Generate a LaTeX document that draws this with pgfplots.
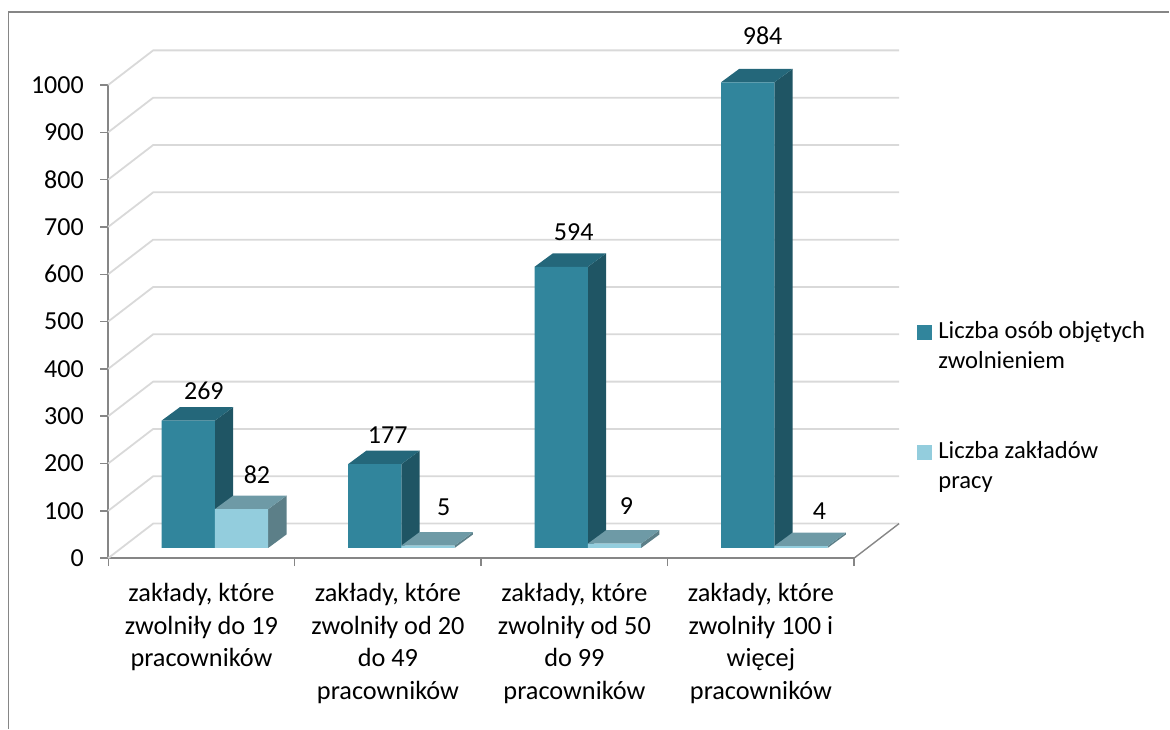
\documentclass[border=0pt]{standalone}
\usepackage{pgfplots}
\usepackage{pgfplotstable}
\usepackage{fontspec}
\setmainfont{Carlito}
\pgfplotsset{compat=1.18}

\definecolor{tealfront}{HTML}{31859C}
\definecolor{tealside}{HTML}{1F5564}
\definecolor{tealtop}{HTML}{24677A}
\definecolor{lightfront}{HTML}{93CDDD}
\definecolor{lightside}{HTML}{5C7F88}
\definecolor{lighttop}{HTML}{6E9AA6}
\definecolor{gridgray}{HTML}{D9D9D9}
\definecolor{axisgray}{HTML}{868686}

% value, then label offset from the middle of the category (pt)
\pgfplotstableread{
pos   osoby  ldx   ldy
0.5   269    2.4   30
1.5   177    -0.2  29.5
2.5   594    -0.7  35
3.5   984    1.7   46.4
}\osobytable
\pgfplotstableread{
pos   zaklady  ldx   ldy
0.5   82       55.5  34.5
1.5   5        55.8  38
2.5   9        52.1  38
3.5   4        58.6  35.4
}\zakladytable

% depth of the bars and of the floor, in axis units
\def\ddx{0.098}
\def\ddy{28.5}
\def\wallx{0.241}
\def\wally{73}

% side and top of a bar: x left, x right, value, top colour, side colour
\newcommand{\barfaces}[5]{%
  \pgfmathsetmacro{\xr}{#2+\ddx}%
  \pgfmathsetmacro{\xl}{#1+\ddx}%
  \pgfmathsetmacro{\yt}{#3+\ddy}%
  \addplot[fill=#5, draw=none, forget plot, yshift=10.2pt] coordinates
    {(#2,0) (\xr,\ddy) (\xr,\yt) (#2,#3)} --cycle;
  \addplot[fill=#4, draw=none, forget plot, yshift=10.2pt] coordinates
    {(#1,#3) (\xl,\yt) (\xr,\yt) (#2,#3)} --cycle;
}

\begin{document}
\begin{tikzpicture}
  \begin{axis}[
    scale only axis,
    width=746.4pt, height=473.5pt,
    xmin=0, xmax=4, ymin=0, ymax=1000,
    clip=false,
    axis x line=bottom, axis y line=left,
    axis line style={-, axisgray, line width=1.6pt},
    tick style={axisgray, line width=1.4pt},
    major tick length=8pt,
    tick align=outside,
    xtick={0,1,2,3,4},
    ytick={0,100,...,1000},
    x tick label as interval,
    xticklabels={
      {zakłady, które\\zwolniły do 19\\pracowników},
      {zakłady, które\\zwolniły od 20\\do 49\\pracowników},
      {zakłady, które\\zwolniły od 50\\do 99\\pracowników},
      {zakłady, które\\zwolniły 100 i\\więcej\\pracowników}},
    x tick label style={align=center, font=\fontsize{26.3}{32.5}\selectfont, yshift=-14pt},
    y tick label style={font=\fontsize{26}{30}\selectfont,
      /pgf/number format/assume math mode=true,
      /pgf/number format/1000 sep={}, xshift=-13pt},
    legend style={at={(axis cs:4.32,510)}, anchor=north west, draw=none, fill=none,
      row sep=98pt, font=\fontsize{24.6}{30}\selectfont,
      cells={anchor=base west}},
  ]
    % page size and the outer frame
    \path (axis cs:-0.5804,1179.5) (axis cs:5.6895,-360.1);
    \draw[axisgray, line width=1.6pt] (axis cs:-0.5349,-360.1) -- (axis cs:-0.5349,1154) -- (axis cs:5.6895,1154);

    % back wall and side of the floor
    \pgfplotsforeachungrouped \v in {0,100,...,1000} {
      \pgfmathsetmacro{\vb}{\v+\wally}
      \pgfmathsetmacro{\xe}{4+\wallx}
      \addplot[gridgray, line width=1.8pt, forget plot] coordinates
        {(0,\v) (\wallx,\vb) (\xe,\vb)};
    }
    \addplot[axisgray, line width=1.4pt, forget plot] coordinates {(4,0) (4.241,73)};

    % dark bars
    \pgfplotsforeachungrouped \i in {0,1,2,3} {
      \pgfplotstablegetelem{\i}{osoby}\of\osobytable
      \edef\val{\pgfplotsretval}
      \pgfmathsetmacro{\xa}{\i+0.286}
      \pgfmathsetmacro{\xb}{\i+0.572}
      \barfaces{\xa}{\xb}{\val}{tealtop}{tealside}
    }
    \addplot[ybar, bar width=53.4pt, /pgf/bar shift=-13.2pt, fill=tealfront, draw=none,
      forget plot, yshift=10.2pt,
      visualization depends on={\thisrow{ldx} \as \ldx},
      visualization depends on={\thisrow{ldy} \as \ldy},
      nodes near coords,
      nodes near coords style={anchor=center, font=\fontsize{26}{28}\selectfont,
        /pgf/number format/assume math mode=true,
        black, xshift=\ldx pt, yshift=\ldy pt},
    ] table[x=pos, y=osoby] {\osobytable};

    % light bars
    \pgfplotsforeachungrouped \i in {0,1,2,3} {
      \pgfplotstablegetelem{\i}{zaklady}\of\zakladytable
      \edef\val{\pgfplotsretval}
      \pgfmathsetmacro{\xa}{\i+0.572}
      \pgfmathsetmacro{\xb}{\i+0.858}
      \barfaces{\xa}{\xb}{\val}{lighttop}{lightside}
    }
    \addplot[ybar, bar width=53.4pt, /pgf/bar shift=40.1pt, fill=lightfront, draw=none,
      forget plot, yshift=10.2pt,
      visualization depends on={\thisrow{ldx} \as \ldx},
      visualization depends on={\thisrow{ldy} \as \ldy},
      nodes near coords,
      nodes near coords style={anchor=center, font=\fontsize{26}{28}\selectfont,
        /pgf/number format/assume math mode=true,
        black, xshift=\ldx pt, yshift=\ldy pt},
    ] table[x=pos, y=zaklady] {\zakladytable};

    \addlegendimage{legend image code/.code={\fill[tealfront] (0pt,-1pt) rectangle (14pt,13pt); \path (19pt,0pt);}}
    \addlegendentry{\parbox[t]{210pt}{\raggedright Liczba osób objętych\\zwolnieniem}}
    \addlegendimage{legend image code/.code={\fill[lightfront] (0pt,-1pt) rectangle (14pt,13pt); \path (19pt,0pt);}}
    \addlegendentry{\parbox[t]{210pt}{\raggedright Liczba zakładów\\pracy}}
  \end{axis}
\end{tikzpicture}
\end{document}
